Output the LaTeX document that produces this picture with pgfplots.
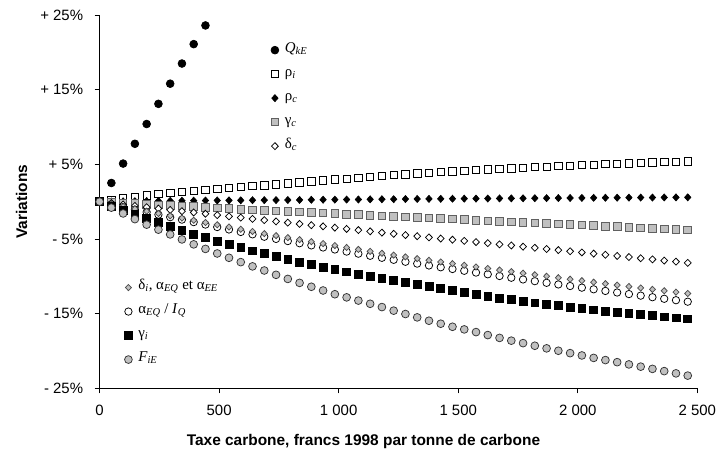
\documentclass[border=0pt]{standalone}
\usepackage{fontspec}
\setmainfont{Liberation Sans}
\newfontfamily\tnr{Liberation Serif}
\usepackage{pgfplots}
\usepackage{pgfplotstable}
\pgfplotsset{compat=1.18}
\definecolor{lg}{HTML}{C0C0C0}
\definecolor{mg}{HTML}{606060}

\pgfplotstableread{
x rhoi rhoc gc dc di al gi F
0 0 0 0 0 0 0 0 0
49.2 0.25 0.02 -0.08 -0.19 -0.33 -0.36 -0.6 -0.8
98.4 0.47 0.04 -0.17 -0.38 -0.65 -0.71 -1.15 -1.58
147.6 0.67 0.06 -0.25 -0.57 -0.97 -1.06 -1.7 -2.34
196.8 0.85 0.08 -0.34 -0.75 -1.28 -1.40 -2.22 -3.08
246 1.02 0.09 -0.42 -0.93 -1.59 -1.74 -2.74 -3.75
295.2 1.17 0.11 -0.5 -1.11 -1.9 -2.08 -3.3 -4.39
344.4 1.31 0.12 -0.59 -1.28 -2.2 -2.41 -3.83 -5.06
393.6 1.45 0.13 -0.67 -1.45 -2.5 -2.74 -4.33 -5.72
442.8 1.58 0.15 -0.76 -1.62 -2.8 -3.07 -4.82 -6.33
492 1.71 0.16 -0.84 -1.8 -3.1 -3.4 -5.3 -6.94
541.2 1.84 0.17 -0.92 -1.97 -3.4 -3.73 -5.75 -7.52
590.4 1.96 0.18 -1.01 -2.14 -3.7 -4.06 -6.17 -8.1
639.6 2.08 0.19 -1.09 -2.31 -3.99 -4.38 -6.58 -8.67
688.8 2.2 0.2 -1.17 -2.48 -4.28 -4.70 -6.97 -9.22
738 2.33 0.21 -1.24 -2.65 -4.55 -4.99 -7.36 -9.8
787.2 2.46 0.22 -1.32 -2.81 -4.82 -5.28 -7.73 -10.35
836.4 2.59 0.23 -1.39 -2.98 -5.09 -5.57 -8.08 -10.88
885.6 2.72 0.25 -1.46 -3.15 -5.36 -5.86 -8.43 -11.4
934.8 2.84 0.26 -1.54 -3.31 -5.62 -6.14 -8.77 -11.9
984 2.96 0.27 -1.61 -3.48 -5.88 -6.41 -9.1 -12.4
1033.2 3.08 0.28 -1.68 -3.65 -6.14 -6.69 -9.41 -12.82
1082.4 3.2 0.29 -1.75 -3.81 -6.4 -6.97 -9.71 -13.25
1131.6 3.32 0.31 -1.83 -3.98 -6.66 -7.25 -10.0 -13.68
1180.8 3.44 0.32 -1.9 -4.15 -6.91 -7.52 -10.28 -14.12
1230 3.56 0.33 -1.97 -4.31 -7.16 -7.79 -10.54 -14.6
1279.2 3.67 0.35 -2.05 -4.48 -7.4 -8.05 -10.8 -15.05
1328.4 3.77 0.36 -2.12 -4.63 -7.63 -8.30 -11.05 -15.5
1377.6 3.87 0.37 -2.19 -4.79 -7.86 -8.55 -11.3 -15.95
1426.8 3.97 0.38 -2.27 -4.94 -8.08 -8.79 -11.6 -16.35
1476 4.06 0.39 -2.34 -5.1 -8.3 -9.02 -11.9 -16.76
1525.2 4.15 0.4 -2.41 -5.25 -8.52 -9.26 -12.17 -17.11
1574.4 4.23 0.41 -2.48 -5.41 -8.74 -9.50 -12.43 -17.47
1623.6 4.31 0.42 -2.56 -5.56 -8.95 -9.73 -12.66 -17.87
1672.8 4.39 0.43 -2.63 -5.72 -9.16 -9.96 -12.9 -18.25
1722 4.47 0.44 -2.7 -5.87 -9.37 -10.19 -13.13 -18.62
1771.2 4.55 0.45 -2.78 -6.03 -9.58 -10.42 -13.34 -18.95
1820.4 4.62 0.46 -2.85 -6.18 -9.79 -10.65 -13.55 -19.3
1869.6 4.69 0.47 -2.92 -6.34 -9.99 -10.87 -13.74 -19.65
1918.8 4.76 0.48 -2.99 -6.49 -10.19 -11.09 -13.94 -19.97
1968 4.83 0.49 -3.07 -6.65 -10.39 -11.30 -14.11 -20.29
2017.2 4.9 0.5 -3.14 -6.8 -10.59 -11.52 -14.3 -20.6
2066.4 4.96 0.51 -3.21 -6.96 -10.79 -11.74 -14.48 -20.93
2115.6 5.02 0.52 -3.29 -7.11 -10.99 -11.96 -14.65 -21.22
2164.8 5.08 0.53 -3.36 -7.27 -11.18 -12.17 -14.82 -21.5
2214 5.14 0.54 -3.43 -7.42 -11.37 -12.38 -14.98 -21.8
2263.2 5.2 0.55 -3.5 -7.58 -11.56 -12.59 -15.13 -22.1
2312.4 5.25 0.55 -3.58 -7.73 -11.75 -12.80 -15.28 -22.4
2361.6 5.3 0.56 -3.65 -7.89 -11.94 -13.01 -15.43 -22.7
2410.8 5.35 0.57 -3.72 -8.04 -12.12 -13.20 -15.57 -23.0
2460 5.4 0.58 -3.8 -8.2 -12.3 -13.40 -15.7 -23.3
}\data

\pgfplotstableread{
x q
0 0
49.2 2.5
98.4 5.1
147.6 7.75
196.8 10.4
246 13.1
295.2 15.8
344.4 18.5
393.6 21.1
442.8 23.6
}\qdata

\pgfplotsset{
  base/.style={scale only axis, width=597.7bp, height=373.3bp,
    xmin=0, xmax=2500, ymin=-25, ymax=25, at={(0,0)}, anchor=south west, clip=false},
  mk/.style={only marks,
    legend image code/.code={\draw[mark repeat=2,mark phase=2,##1] plot coordinates {(0bp,0bp) (5bp,0bp) (10bp,0bp)};}},
  legst/.style={legend style={draw=none, fill=none, inner sep=0pt, outer sep=0pt,
    font=\tnr\fontsize{15}{18}\selectfont, row sep=0pt,
    nodes={inner sep=0pt, inner xsep=6bp, text height=14bp, text depth=10bp}},
    legend cell align=left},
  Qst/.style={black, mark=*, mark size=3.9bp, mark options={fill=black, line width=0.7bp}},
  rist/.style={black, mark=square*, mark size=3.7bp, mark options={fill=white, line width=0.75bp}},
  rcst/.style={black, mark=diamond*, mark size=3.5bp, mark options={fill=black, line width=0.7bp, xscale=1.2}},
  gcst/.style={mg, mark=square*, mark size=3.8bp, mark options={fill=lg, draw=mg, line width=0.9bp}},
  dcst/.style={black, mark=diamond*, mark size=3.5bp, mark options={fill=white, line width=0.75bp, xscale=1.3}},
  dist/.style={black!70, mark=diamond*, mark size=3.1bp, mark options={fill=lg, draw=black!70, line width=0.75bp, xscale=1.3}},
  alst/.style={black, mark=*, mark size=3.7bp, mark options={fill=white, line width=0.75bp}},
  gist/.style={black, mark=square*, mark size=3.9bp, mark options={fill=black, line width=0.7bp}},
  Fst/.style={black, mark=*, mark size=3.9bp, mark options={fill=lg, draw=black!80, line width=0.75bp}},
}

\begin{document}
\begin{tikzpicture}
\useasboundingbox (-99.6bp,-61.7bp) rectangle (619.4bp,388.3bp);
\begin{axis}[base, legst,
  axis x line*=bottom, axis y line*=left,
  axis line style={-, line width=0.8bp, black},
  every outer x axis line/.append style={-},
  every outer y axis line/.append style={-},
  tick style={line width=0.8bp, black},
  tick align=outside, major tick length=5bp,
  xtick={0,500,1000,1500,2000,2500},
  xticklabels={0,500,1 000,1 500,2 000,2 500},
  ytick={-25,-15,-5,5,15,25},
  yticklabels={- 25\%,- 15\%,- 5\%,+ 5\%,+ 15\%,+ 25\%},
  ticklabel style={font=\fontsize{15}{18}\selectfont},
  xticklabel style={yshift=-8.5bp},
  yticklabel style={xshift=-8bp},
  xlabel={Taxe carbone, francs 1998 par tonne de carbone},
  ylabel={Variations},
  label style={font=\bfseries\fontsize{15.5}{18}\selectfont},
  xlabel style={at={(axis description cs:0.4415,-0.1412)}, anchor=center},
  ylabel style={at={(axis description cs:-0.1303,0.5)}, anchor=center},
  legend style={at={(0.2868,0.938)}, anchor=north west},
]
\addplot[mk, Qst] table[x=x,y=q]{\qdata};
\addlegendentry{\textit{Q}\textsubscript{\textit{kE}}}
\addplot[mk, rist] table[x=x,y=rhoi]{\data};
\addlegendentry{ρ\textsubscript{\textit{i}}}
\addplot[mk, rcst] table[x=x,y=rhoc]{\data};
\addlegendentry{ρ\textsubscript{\textit{c}}}
\addplot[mk, gcst] table[x=x,y=gc]{\data};
\addlegendentry{γ\textsubscript{\textit{c}}}
\addplot[mk, dcst] table[x=x,y=dc]{\data};
\addlegendentry{δ\textsubscript{\textit{c}}}
\end{axis}

\begin{axis}[base, legst, hide axis,
  legend style={at={(0.0417,0.302)}, anchor=north west},
]
\addlegendimage{mk, dist}
\addlegendentry{δ\textsubscript{\textit{i}}, α\textsubscript{\textit{EQ}} et α\textsubscript{\textit{EE}}}
\addlegendimage{mk, alst}
\addlegendentry{α\textsubscript{\textit{EQ}} / \textit{I}\textsubscript{\textit{Q}}}
\addlegendimage{mk, gist}
\addlegendentry{γ\textsubscript{\textit{i}}}
\addlegendimage{mk, Fst}
\addlegendentry{\textit{F}\textsubscript{\textit{iE}}}
\addplot[forget plot, only marks, alst] table[x=x,y=al]{\data};
\addplot[forget plot, only marks, dist] table[x=x,y=di]{\data};
\addplot[forget plot, only marks, gist] table[x=x,y=gi]{\data};
\addplot[forget plot, only marks, Fst] table[x=x,y=F]{\data};
\end{axis}
\end{tikzpicture}
\end{document}
